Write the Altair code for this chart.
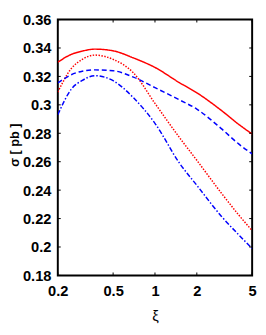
import altair as alt
import pandas as pd

xi = [0.2, 0.25, 0.3, 0.37, 0.5, 0.7, 1.0, 1.5, 2.0, 3.0, 4.0, 5.0]

red_solid = [0.330, 0.3355, 0.3378, 0.3392, 0.3380, 0.3330, 0.3263, 0.3156, 0.3085, 0.2961, 0.2863, 0.2795]
red_dotted = [0.309, 0.3255, 0.3320, 0.3350, 0.3320, 0.3225, 0.3010, 0.2770, 0.2610, 0.2380, 0.2226, 0.2115]
blue_dashed = [0.3155, 0.3212, 0.3237, 0.3246, 0.3240, 0.3195, 0.3121, 0.3035, 0.2970, 0.2833, 0.2725, 0.2655]
blue_dashdot = [0.293, 0.3110, 0.3172, 0.3205, 0.3170, 0.3050, 0.2870, 0.2590, 0.2434, 0.2217, 0.2086, 0.1990]

series = ["solid", "dotted", "dashed", "dashdot"]
values = [red_solid, red_dotted, blue_dashed, blue_dashdot]
colors = ["#ff0000", "#ff0000", "#0000ff", "#0000ff"]
dashes = [[1, 0], [1.5, 1.5], [5, 3], [5, 2, 1.5, 2]]

y_ticks = [0.18, 0.2, 0.22, 0.24, 0.26, 0.28, 0.3, 0.32, 0.34, 0.36]
x_ticks = [0.2, 0.5, 1, 2, 5]

W, H = 199, 262

rows = []
for s, v in zip(series, values):
    for x, y in zip(xi, v):
        rows.append({"xi": x, "sigma": y, "s": s})
df = pd.DataFrame(rows)

xscale = alt.Scale(type="log", domain=[0.2, 5], nice=False)
yscale = alt.Scale(domain=[0.18, 0.36], nice=False, zero=False)

font = "Liberation Sans"

xaxis = alt.Axis(values=x_ticks, title="ξ", labelFont=font, labelFontSize=15,
                 labelFontWeight="bold", labelColor="black", labelPadding=9,
                 titleFont=font, titleFontSize=15, titleFontWeight="normal",
                 titleColor="black", titlePadding=10, ticks=False, domain=False,
                 grid=False, labelFlush=False, labelOverlap=False,
                 labelExpr="datum.value")
yaxis = alt.Axis(values=y_ticks, title="σ [ pb ]", labelFont=font, labelFontSize=15,
                 labelFontWeight="bold", labelColor="black", labelPadding=7,
                 titleFont=font, titleFontSize=13, titleFontWeight="bold",
                 titleColor="black", titlePadding=1, ticks=False, domain=False,
                 grid=False, labelFlush=False, labelOverlap=False, titleY=128,
                 labelExpr="format(datum.value, '.2~f')")

lines = alt.Chart(df).mark_line(strokeWidth=1.5, interpolate="monotone", clip=True).encode(
    x=alt.X("xi:Q", scale=xscale, axis=xaxis),
    y=alt.Y("sigma:Q", scale=yscale, axis=yaxis),
    color=alt.Color("s:N", scale=alt.Scale(domain=series, range=colors), legend=None),
    strokeDash=alt.StrokeDash("s:N", scale=alt.Scale(domain=series, range=dashes), legend=None),
)

ydf = pd.DataFrame({"v": y_ticks})
xdf = pd.DataFrame({"v": x_ticks})

yt_left = alt.Chart(ydf).mark_rule(color="black", strokeWidth=1).encode(
    y=alt.Y("v:Q", scale=yscale, axis=yaxis), x=alt.value(0), x2=alt.value(3))
yt_right = alt.Chart(ydf).mark_rule(color="black", strokeWidth=1).encode(
    y=alt.Y("v:Q", scale=yscale, axis=yaxis), x=alt.value(W - 3), x2=alt.value(W))
xt_bot = alt.Chart(xdf).mark_rule(color="black", strokeWidth=1).encode(
    x=alt.X("v:Q", scale=xscale, axis=xaxis), y=alt.value(H - 3), y2=alt.value(H))
xt_top = alt.Chart(xdf).mark_rule(color="black", strokeWidth=1).encode(
    x=alt.X("v:Q", scale=xscale, axis=xaxis), y=alt.value(0), y2=alt.value(3))

chart = alt.layer(lines, yt_left, yt_right, xt_bot, xt_top).properties(
    width=W, height=H,
    autosize=alt.AutoSizeParams(type="none"),
    padding={"left": 51, "top": 8, "right": 6, "bottom": 50},
    background="white",
).configure_view(stroke="black", strokeWidth=2)

chart.save("out.html", embed_options={"renderer": "svg", "actions": False})
